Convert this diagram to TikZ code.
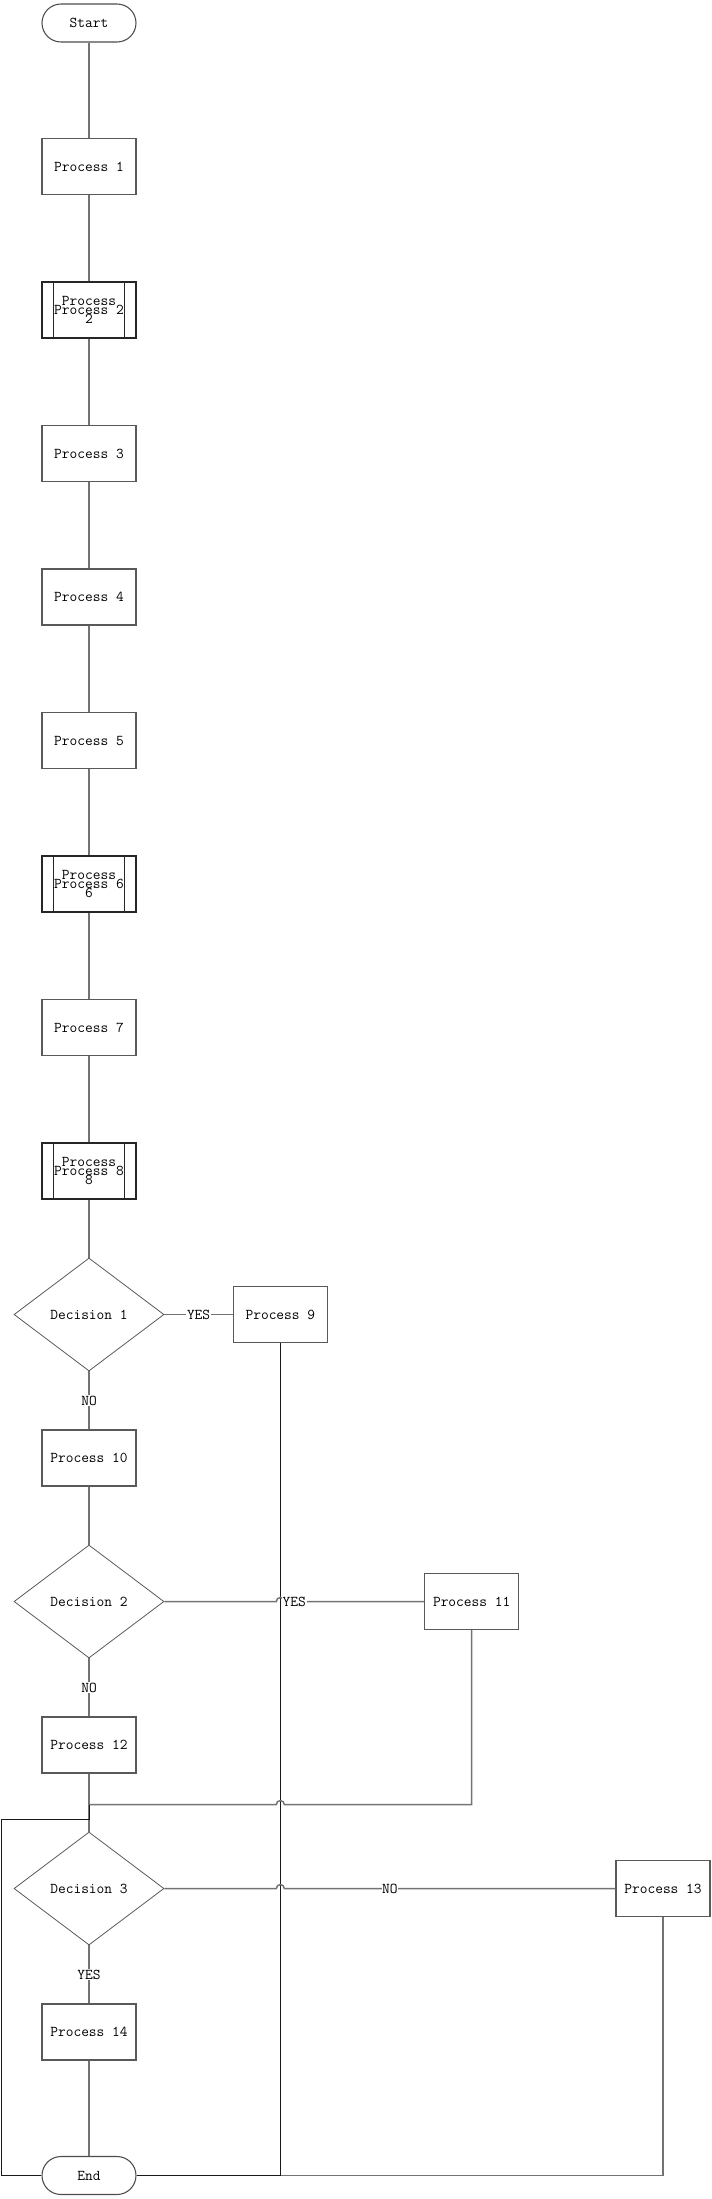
\documentclass[tikz,border=0pt]{standalone}
\usepackage{tikz}
\usetikzlibrary{shapes.geometric}

\begin{document}
\begin{tikzpicture}[x=143.5pt, y=107.625pt,
        font=\fontsize{11.25}{13.5}\selectfont\ttfamily,
        term/.style={draw=black!70, line width=0.8pt, rounded corners=14.25pt, minimum width=70.5pt, minimum height=28.5pt, inner sep=0pt},
        proc/.style={draw=black!65, line width=0.8pt, minimum width=70.5pt, minimum height=42pt, inner sep=0pt},
        predef/.style={proc, draw=black!85, line width=1.1pt, path picture={
            \draw[black!85, line width=0.8pt] ([xshift=8.5pt]path picture bounding box.north west) -- ([xshift=8.5pt]path picture bounding box.south west);
            \draw[black!85, line width=0.8pt] ([xshift=-8.5pt]path picture bounding box.north east) -- ([xshift=-8.5pt]path picture bounding box.south east);}},
        decision/.style={diamond, aspect=1.33, draw=black!65, line width=0.6pt, minimum width=112.5pt, minimum height=84.75pt, inner sep=0pt},
        link/.style={black!55, line width=1.1pt},
        wire/.style={black!90, line width=0.75pt},
        lbl/.style={fill=white, text=black, inner sep=0.5pt}]

        \useasboundingbox (-66.75pt, 17.25pt) rectangle (467.25pt, -1632pt);

        \node (s) at (0, 0)[term] {Start};

        \node (1) at (0, -1)[proc] {Process 1};

        \node (2) at (0, -2)[predef] {Process 2};
        \node (2b) at (0, -2)[align=center] {Process\\2};

        \node (3) at (0, -3)[proc] {Process 3};

        \node (4) at (0, -4)[proc] {Process 4};

        \node (5) at (0, -5)[proc] {Process 5};

        \node (6) at (0, -6)[predef] {Process 6};
        \node (6b) at (0, -6)[align=center] {Process\\6};

        \node (7) at (0, -7)[proc] {Process 7};

        \node (8) at (0, -8)[predef] {Process 8};
        \node (8b) at (0, -8)[align=center] {Process\\8};

        \node (d1) at (0, -9)[decision] {Decision 1};
        \node (9) at (1, -9)[proc] {Process 9};

        \node (10) at (0, -10)[proc] {Process 10};

        \node (d2) at (0, -11)[decision] {Decision 2};
        \node (11) at (2, -11)[proc] {Process 11};

        \node (12) at (0, -12)[proc] {Process 12};

        \node (d3) at (0, -13)[decision] {Decision 3};
        \node (13) at (3, -13)[proc] {Process 13};

        \node (14) at (0, -14)[proc] {Process 14};

        \node (e) at (0, -15)[term] {End};

        \coordinate (j1) at ([yshift=-23.25pt]12.south);
        \coordinate (j2) at ([yshift=9pt]d3.north);
        \coordinate (h1) at (9 |- d2);
        \coordinate (h2) at (9 |- j1);
        \coordinate (h3) at (9 |- d3);

        \draw[link] (s) -- (1) -- (2) -- (3) -- (4) -- (5) -- (6) -- (7) -- (8) -- (d1);
        \draw[link] (d1) -- node[lbl] (y1) {YES} (9);
        \draw[link] (d1) -- node[lbl] (n1) {NO} (10);
        \draw[link] (10) -- (d2);
        \draw[link] (d2) -- node[lbl] (n2) {NO} (12);
        \draw[link] (12) -- (d3);
        \draw[link] (d3) -- node[lbl] (y3) {YES} (14);
        \draw[link] (14) -- (e);

        \draw[link] (13) |- (e);
        \draw[wire] (9) |- (e);

        \draw[link] (d2) -- ([xshift=-3pt]h1) arc[start angle=180, end angle=0, radius=3pt] -- (11);
        \path (d2) -- node[lbl] (y2) {YES} (11);
        \draw[link] (11) |- ([xshift=3pt]h2) arc[start angle=0, end angle=180, radius=3pt] -- (j1);
        \draw[link] (d3) -- ([xshift=-3pt]h3) arc[start angle=180, end angle=0, radius=3pt] -- (13);
        \path (d3) -- node[lbl] (n3) {NO} (13);

        \draw[wire] (e.west) -- ++(-30pt, 0) |- (j2) -- (j1);
    \end{tikzpicture}
\end{document}
